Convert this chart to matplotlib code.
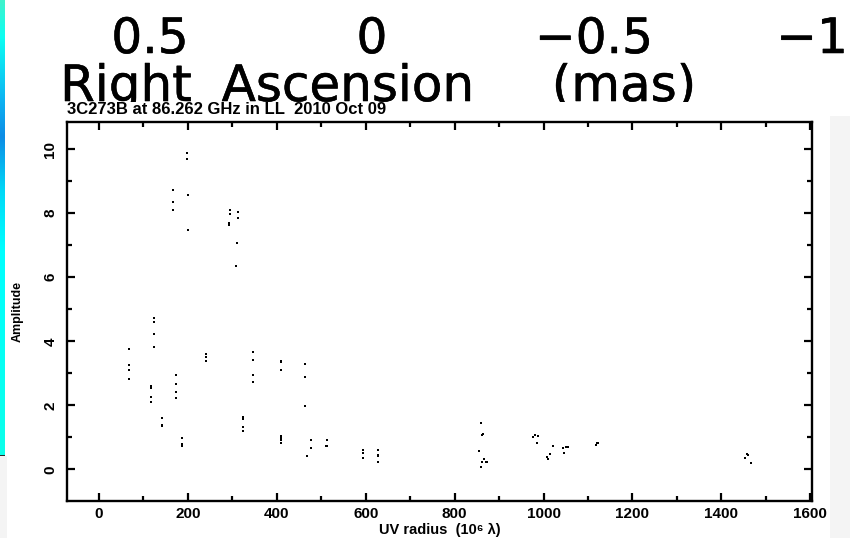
import numpy as np
import matplotlib
matplotlib.use("Agg")
import matplotlib.pyplot as plt
from matplotlib.patches import Rectangle
from matplotlib.ticker import MultipleLocator
from matplotlib.colors import LinearSegmentedColormap
import matplotlib.patheffects as pe

# ---------------- data ----------------
uv_radius = [68, 68, 68, 68,
             118, 118, 118, 118,
             123, 123, 123, 123,
             141.5, 141.5, 141.5,
             166, 166, 166,
             174, 174, 174, 174,
             186.5, 186.5, 186.5,
             198, 198, 200, 200,
             241.5, 241.5, 241.5,
             293, 293, 295, 295,
             308, 311, 312, 312,
             323, 323, 323, 323,
             347, 347, 347, 347,
             410, 410, 410, 410, 410, 410, 410,
             463, 463, 463, 469, 476.5, 476.5,
             512, 512, 510,
             593, 593, 593,
             628.5, 627, 628.5, 628.5,
             859, 863, 861, 855, 866, 870, 862, 873, 860,
             977, 981, 988, 985,
             1007, 1011, 1015, 1021,
             1043, 1047, 1051, 1055,
             1118, 1123, 1121,
             1457, 1461, 1453, 1466]
amplitude = [3.75, 3.27, 3.09, 2.83,
             2.59, 2.55, 2.25, 2.09,
             4.74, 4.61, 4.24, 3.81,
             1.59, 1.38, 1.34,
             8.73, 8.35, 8.10,
             2.95, 2.66, 2.43, 2.24,
             0.97, 0.79, 0.74,
             9.89, 9.68, 8.56, 7.49,
             3.61, 3.51, 3.39,
             7.71, 7.63, 8.10, 7.99,
             6.36, 7.07, 8.05, 7.86,
             1.63, 1.57, 1.31, 1.19,
             3.65, 3.43, 2.95, 2.72,
             3.38, 3.34, 3.09, 1.03, 0.97, 0.91, 0.83,
             3.30, 2.88, 1.98, 0.43, 0.91, 0.66,
             0.92, 0.74, 0.72,
             0.61, 0.52, 0.36,
             0.61, 0.46, 0.43, 0.22,
             1.45, 1.10, 1.07, 0.57, 0.31, 0.24, 0.22, 0.24, 0.06,
             1.00, 1.07, 1.04, 0.83,
             0.37, 0.32, 0.47, 0.73,
             0.66, 0.50, 0.69, 0.71,
             0.76, 0.81, 0.83,
             0.48, 0.45, 0.35, 0.20]

ra_tick_labels = ["0.5", "0", "\u22120.5", "\u22121"]
ra_label_words = ["Right", "Ascension", "(mas)"]
title = "3C273B at 86.262 GHz in LL  2010 Oct 09"
xlabel = "UV radius  (10\u2076 \u03bb)"
ylabel = "Amplitude"

W, H = 850, 538
fig = plt.figure(figsize=(W / 100, H / 100), dpi=100)
fig.patch.set_facecolor("white")

# background (pixel coordinates)
bg = fig.add_axes([0, 0, 1, 1], zorder=0)
bg.set_xlim(0, W)
bg.set_ylim(H, 0)
bg.axis("off")

# cyan/blue strip on the left
cmap = LinearSegmentedColormap.from_list(
    "strip",
    [(0.0, (0.25, 0.95, 0.80)), (0.08, (0.05, 1.0, 0.95)),
     (0.22, (0.05, 0.70, 0.95)), (0.30, (0.05, 0.55, 0.90)),
     (0.42, (0.00, 0.85, 0.97)), (0.55, (0.0, 1.0, 1.0)),
     (1.0, (0.05, 1.0, 0.92))])
grad = np.linspace(0, 1, 256).reshape(-1, 1)
bg.imshow(grad, cmap=cmap, aspect="auto", extent=[0, 5, 455, 0], zorder=1)
bg.plot([0, 5], [455.5, 455.5], color="black", lw=1.2, zorder=2)

# big text from the upper (cropped) figure
thick = [pe.withStroke(linewidth=0.4, foreground="black")]
for lab, xc in zip(ra_tick_labels, [150, 372, 594, 812]):
    bg.text(xc, 53, lab, ha="center", va="baseline", fontsize=35,
            family="DejaVu Sans", color="black", zorder=3,
            path_effects=thick)
for word, xc in zip(ra_label_words, [126, 348, 624]):
    bg.text(xc, 101, word, ha="center", va="baseline", fontsize=36,
            family="DejaVu Sans", color="black", zorder=3,
            path_effects=thick)

# the lower image covering the text
bg.add_patch(Rectangle((5, 102), W - 5, H - 102, facecolor="white",
                       edgecolor="none", zorder=5))
bg.add_patch(Rectangle((0, 456), 7, H - 456, facecolor="#f4f4f4",
                       edgecolor="none", zorder=6))
bg.add_patch(Rectangle((830, 116), 20, H - 116, facecolor="#f4f4f4",
                       edgecolor="none", zorder=6))
bg.text(67, 109, title, ha="left", va="center", fontsize=12,
        family="Liberation Sans", weight="bold", zorder=7)

# main plot
ax = fig.add_axes([67 / W, 37 / H, 745 / W, 379 / H], zorder=2)
ax.patch.set_alpha(0)
ax.plot(uv_radius, amplitude, linestyle="none", marker="s",
        markersize=1.9, color="black", markeredgewidth=0)
ax.set_xlim(-72, 1604)
ax.set_ylim(-0.99, 10.85)
ax.xaxis.set_major_locator(MultipleLocator(200))
ax.xaxis.set_minor_locator(MultipleLocator(100))
ax.yaxis.set_major_locator(MultipleLocator(2))
ax.yaxis.set_minor_locator(MultipleLocator(1))
ax.tick_params(which="both", direction="in", top=True, right=True,
               width=1.6, colors="black")
ax.tick_params(which="major", length=6)
ax.tick_params(which="minor", length=3.5)
ax.tick_params(axis="x", pad=4)
ax.tick_params(axis="y", pad=7)
for sp in ax.spines.values():
    sp.set_linewidth(1.7)
for lbl in ax.get_xticklabels() + ax.get_yticklabels():
    lbl.set_family("Liberation Sans")
    lbl.set_weight("bold")
    lbl.set_fontsize(11)
for lbl in ax.get_yticklabels():
    lbl.set_rotation(90)
    lbl.set_va("center")
ax.set_xlabel(xlabel, family=["Liberation Sans", "DejaVu Sans"],
              weight="bold", fontsize=10.5, va="center")
ax.set_ylabel(ylabel, family="Liberation Sans", weight="bold", fontsize=9)
ax.xaxis.set_label_coords(0.5, -28.5 / 379)
ax.yaxis.set_label_coords(-43 / 745, 0.5)

fig.savefig("out.png", dpi=100)
